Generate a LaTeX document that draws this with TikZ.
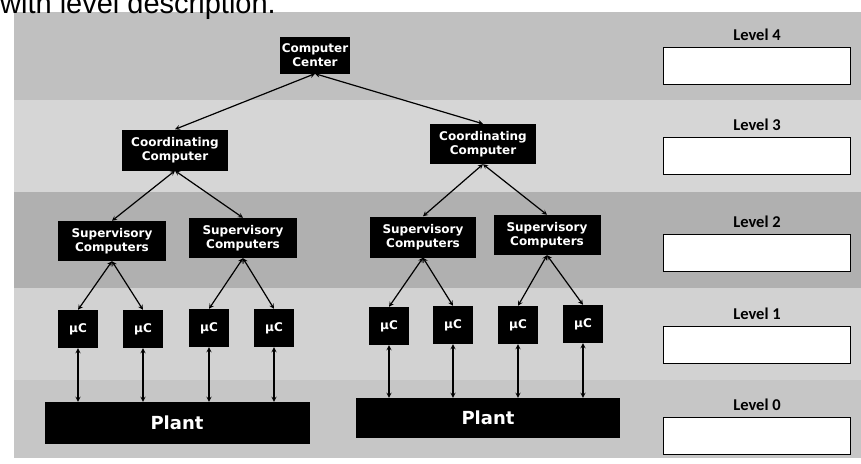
\documentclass[tikz,border=0pt]{standalone}
\usepackage{fontspec}
\setmainfont{Liberation Sans}
\newfontfamily\boxfont{DejaVu Sans}
\newfontfamily\lvlfont{Carlito}
\usetikzlibrary{arrows,positioning}
\definecolor{bandA}{RGB}{192,192,192}
\definecolor{bandB}{RGB}{214,214,214}
\definecolor{bandC}{RGB}{176,176,176}
\definecolor{bandD}{RGB}{210,210,210}
\definecolor{bandE}{RGB}{198,198,198}

\tikzset{
  blk/.style={fill=black, text=white, font=\boxfont\bfseries\fontsize{12}{14.5}\selectfont,
    align=center, inner sep=2pt},
  mu/.style={blk, minimum width=40pt, minimum height=38pt},
  plant/.style={blk, minimum height=42pt, font=\boxfont\bfseries\fontsize{18}{20}\selectfont},
  lvlbox/.style={draw=black, line width=1.5pt, fill=white, minimum width=187pt, minimum height=37pt},
  lvltext/.style={font=\lvlfont\bfseries\fontsize{16.5}{18}\selectfont, inner sep=0pt},
  link/.style={<->, >=stealth, line width=1.2pt}
}

\begin{document}
\begin{tikzpicture}[x=1pt,y=-1pt]
  \useasboundingbox (0,0) rectangle (861,463);
  % bands
  \fill[bandA] (14,12) rectangle (861,100);
  \fill[bandB] (14,100) rectangle (861,192);
  \fill[bandC] (14,192) rectangle (861,288);
  \fill[bandD] (14,288) rectangle (861,380);
  \fill[bandE] (14,380) rectangle (861,458);
  \node[anchor=base west, inner sep=0pt, font=\fontsize{29}{32}\selectfont] (title) at (0,13) {with level description.};

  % level 4 and 3
  \node[blk, minimum width=63pt, minimum height=37pt] (cc) at (315,55) {Computer\\Center};
  \node[blk, minimum width=106pt, minimum height=41pt] (crdA) at (175,150) {Coordinating\\Computer};
  \node[blk, minimum width=106pt, minimum height=40pt] (crdB) at (483,144) {Coordinating\\Computer};

  % level 2
  \node[blk, minimum width=108pt, minimum height=40pt] (supA) at (112,241) {Supervisory\\Computers};
  \node[blk, minimum width=108pt, minimum height=40pt] (supB) at (243,238) {Supervisory\\Computers};
  \node[blk, minimum width=106pt, minimum height=41pt] (supC) at (423,237) {Supervisory\\Computers};
  \node[blk, minimum width=107pt, minimum height=40pt] (supD) at (547,235) {Supervisory\\Computers};

  % level 1
  \node[mu] (muA) at (78,329) {µC};
  \node[mu] (muB) at (143,329) {µC};
  \node[mu] (muC) at (209,328) {µC};
  \node[mu] (muD) at (274,328) {µC};
  \node[mu] (muE) at (389,326) {µC};
  \node[mu] (muF) at (453,325) {µC};
  \node[mu] (muG) at (518,325) {µC};
  \node[mu] (muH) at (583,324) {µC};

  % level 0
  \node[plant, minimum width=265pt] (plantA) at (177,423) {Plant};
  \node[plant, minimum width=264pt, minimum height=40pt] (plantB) at (488,418) {Plant};

  % connectors
  \draw[link] (cc.south) -- (crdA.north);
  \draw[link] (cc.south) -- (crdB.north);
  \draw[link] (crdA.south) -- (supA.north);
  \draw[link] (crdA.south) -- (supB.north);
  \draw[link] (crdB.south) -- (supC.north);
  \draw[link] (crdB.south) -- (supD.north);
  \draw[link] (supA.south) -- (muA.north);
  \draw[link] (supA.south) -- (muB.north);
  \draw[link] (supB.south) -- (muC.north);
  \draw[link] (supB.south) -- (muD.north);
  \draw[link] (supC.south) -- (muE.north);
  \draw[link] (supC.south) -- (muF.north);
  \draw[link] (supD.south) -- (muG.north);
  \draw[link] (supD.south) -- (muH.north);
  \foreach \m in {A,B,C,D}
    \draw[link] (mu\m.south) -- (mu\m.south |- plantA.north);
  \foreach \m in {E,F,G,H}
    \draw[link] (mu\m.south) -- (mu\m.south |- plantB.north);

  % level description boxes
  \foreach \lv/\y in {4/66,3/156,2/253,1/345,0/436} {
    \node[lvlbox] (box\lv) at (757,\y) {};
    \node[lvltext, above=6pt of box\lv] (lvl\lv) {Level \lv};
  }
\end{tikzpicture}
\end{document}
